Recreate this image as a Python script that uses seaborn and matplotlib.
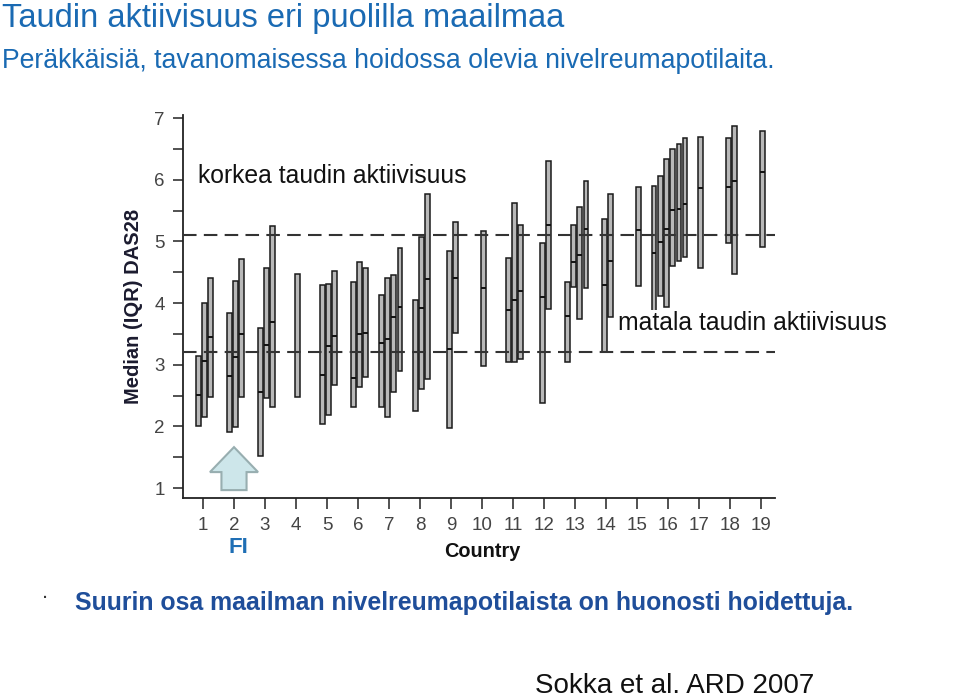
import numpy as np
import pandas as pd
import matplotlib
matplotlib.use("Agg")
import matplotlib.pyplot as plt
from matplotlib.patches import FancyArrow
import seaborn as sns

# ---------------- data ----------------
countries = list(range(1, 20))
site_country = [1, 1, 1, 2, 2, 2, 3, 3, 3, 4, 5, 5, 5, 6, 6, 6, 7, 7, 7, 7,
                8, 8, 8, 9, 9, 10, 11, 11, 11, 12, 12, 13, 13, 13, 13, 14, 14,
                15, 16, 16, 16, 16, 16, 16, 17, 18, 18, 19]
site_q1 = [2.01, 2.15, 2.48, 1.91, 1.99, 2.48, 1.52, 2.46, 2.31, 2.48, 2.04, 2.18, 2.67,
           2.31, 2.64, 2.80, 2.31, 2.15, 2.56, 2.90, 2.25, 2.61, 2.77, 1.97, 3.51, 2.98,
           3.04, 3.04, 3.09, 2.38, 3.90, 3.04, 4.26, 3.74, 4.24, 3.21, 3.77, 4.28,
           3.66, 4.11, 3.94, 4.60, 4.68, 4.75, 4.57, 4.97, 4.47, 4.91]
site_median = [2.51, 3.06, 3.45, 2.82, 3.12, 3.50, 2.56, 3.32, 3.69, 3.21, 2.83, 3.30, 3.46,
               2.78, 3.50, 3.51, 3.35, 3.42, 3.77, 3.94, 3.20, 3.92, 4.39, 3.25, 4.41, 4.24,
               3.89, 4.05, 4.19, 4.10, 5.26, 3.79, 4.66, 4.78, 5.20, 4.29, 4.68, 5.18,
               4.81, 4.99, 5.20, 5.51, 5.52, 5.61, 5.86, 5.88, 5.98, 6.12]
site_q3 = [3.14, 4.00, 4.41, 3.84, 4.36, 4.71, 3.59, 4.57, 5.25, 4.47, 4.29, 4.31, 4.52,
           4.34, 4.67, 4.57, 4.13, 4.41, 4.45, 4.89, 4.05, 5.07, 5.77, 4.84, 5.31, 5.17,
           4.73, 5.62, 5.26, 4.97, 6.30, 4.34, 5.26, 5.56, 5.98, 5.36, 5.77, 5.88,
           5.90, 6.06, 6.34, 6.50, 6.58, 6.68, 6.69, 6.68, 6.87, 6.79]
high_threshold = 5.1
low_threshold = 3.2
y_ticks = [1, 2, 3, 4, 5, 6, 7]

title1 = "Taudin aktiivisuus eri puolilla maailmaa"
title2 = "Peräkkäisiä, tavanomaisessa hoidossa olevia nivelreumapotilaita."
label_high = "korkea taudin aktiivisuus"
label_low = "matala taudin aktiivisuus"
conclusion = "Suurin osa maailman nivelreumapotilaista on huonosti hoidettuja."
source = "Sokka et al. ARD 2007"
fi_label = "FI"
fi_country = 2

df = pd.DataFrame({"country": site_country, "q1": site_q1,
                   "median": site_median, "q3": site_q3})
# dodge the sites within each country
df["j"] = df.groupby("country").cumcount()
df["n"] = df.groupby("country")["country"].transform("size")
step = 0.2
df["x"] = df["country"] + 0.05 + (df["j"] - (df["n"] - 1) / 2) * step

# ---------------- style ----------------
sns.set_theme(style="ticks")
plt.rcParams["font.family"] = ["Liberation Sans", "DejaVu Sans"]

fig = plt.figure(figsize=(9.6, 7.0), dpi=100)
ax = fig.add_axes([183 / 960, 1 - 498 / 700, 592 / 960, 383 / 700])

box_w = 0.15
ax.bar(df["x"], df["q3"] - df["q1"], bottom=df["q1"], width=box_w,
       color="#b8b8b8", edgecolor="#1a1a1a", linewidth=1.1, zorder=2)
ax.hlines(df["median"], df["x"] - box_w / 2, df["x"] + box_w / 2,
          color="#111111", linewidth=1.4, zorder=3)

for thr in (high_threshold, low_threshold):
    ax.axhline(thr, color="#333333", linewidth=1.5,
               linestyle=(0, (6.5, 3.5)), zorder=4)

ax.set_xlim(0.355, 19.45)
ax.set_ylim(0.84, 7.05)
ax.set_xticks(countries)
ax.set_xticklabels([str(c) for c in countries])
ax.set_yticks(y_ticks)
ax.set_yticks([v + 0.5 for v in y_ticks[:-1]], minor=True)
ax.tick_params(axis="both", which="both", direction="out", length=7,
               width=1.2, color="#333333", labelsize=13.5,
               labelcolor="#444444", pad=6)
ax.tick_params(axis="x", length=8, pad=6)
sns.despine(ax=ax)
for s in ("left", "bottom"):
    ax.spines[s].set_linewidth(1.3)
    ax.spines[s].set_color("#222222")

ax.set_ylabel("Median (IQR) DAS28", fontsize=14.5, fontweight="bold",
              color="#1b1b2f")
ax.yaxis.set_label_coords(-0.067, 0.5)
ax.set_xlabel("Country", fontsize=14.3, fontweight="bold", color="#111111")
ax.xaxis.set_label_coords(0.505, -0.115)

ax.text(0.84, 6.06, label_high, fontsize=17.8, color="#111111",
        ha="left", va="center", zorder=5)
ax.text(14.39, 3.68, label_low, fontsize=17.8, color="#111111",
        ha="left", va="center", clip_on=False, zorder=5,
        bbox=dict(facecolor="white", edgecolor="none", pad=0.5))

# FI marker arrow
arrow = FancyArrow(fi_country, 0.968, 0, 0.697, width=0.81, head_width=1.55,
                   head_length=0.405, length_includes_head=True,
                   facecolor="#cde6ea", edgecolor="#98aeb0", linewidth=1.5,
                   clip_on=False, zorder=5)
ax.add_patch(arrow)
ax.text(fi_country + 0.13, 0.03, fi_label, fontsize=16, fontweight="bold",
        color="#1f6fb5", ha="center", va="center", clip_on=False)

# titles and notes
fig.text(2 / 960, 1 - 18 / 700, title1, fontsize=23.5, color="#1a6ab3",
         ha="left", va="center")
fig.text(2 / 960, 1 - 61 / 700, title2, fontsize=19.2, color="#1a6ab3",
         ha="left", va="center")
fig.text(45 / 960, 1 - 592 / 700, ".", fontsize=16, color="#333333",
         ha="center", va="center")
fig.text(75 / 960, 1 - 603 / 700, conclusion, fontsize=17.9, fontweight="bold",
         color="#1f4e9a", ha="left", va="center")
fig.text(535 / 960, 1 / 700, source, fontsize=20, color="#111111",
         ha="left", va="bottom")

fig.savefig("out.png", dpi=100)
